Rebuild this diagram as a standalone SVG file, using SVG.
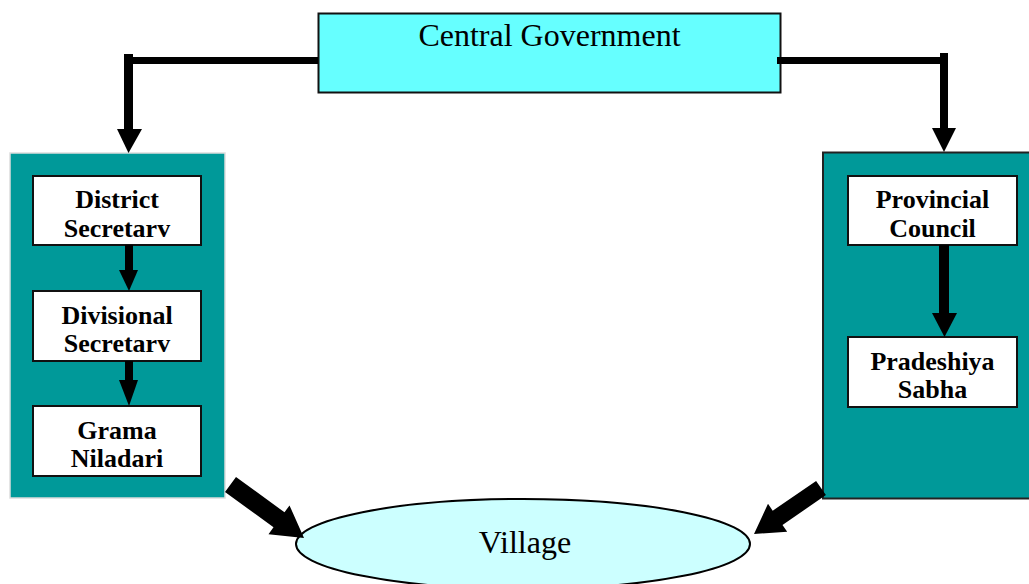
<svg xmlns="http://www.w3.org/2000/svg" width="1029" height="584" viewBox="0 0 1029 584">
<style>
.box{fill:#ffffff;stroke:#111;stroke-width:2}
.lbl{font-family:"Liberation Serif","Times New Roman",serif;font-weight:bold;font-size:26px;fill:#000;text-anchor:middle}
.big{font-family:"Liberation Serif","Times New Roman",serif;font-size:32px;fill:#000;text-anchor:middle}
.con{fill:#000;stroke:none}
</style>
<rect width="1029" height="584" fill="#ffffff"/>
<g id="central">
<rect x="318.5" y="13.5" width="462" height="79" fill="#66FFFF" stroke="#111" stroke-width="2"/>
<text class="big" x="549.5" y="46">Central Government</text>
</g>
<g id="left-panel">
<rect x="10" y="153" width="215" height="345" fill="#009999" stroke="#dddddd" stroke-width="1.5"/>
</g>
<g id="right-panel">
<rect x="823" y="152.5" width="210" height="346" fill="#009999" stroke="#222" stroke-width="2"/>
</g>
<g id="district">
<rect class="box" x="33" y="176" width="168" height="69"/>
<text class="lbl" x="117" y="208">District</text>
<text class="lbl" x="117" y="237">Secretarv</text>
</g>
<g id="divisional">
<rect class="box" x="33" y="291" width="168" height="70"/>
<text class="lbl" x="117" y="324">Divisional</text>
<text class="lbl" x="117" y="352">Secretarv</text>
</g>
<g id="grama">
<rect class="box" x="33" y="406" width="168" height="70"/>
<text class="lbl" x="117" y="439">Grama</text>
<text class="lbl" x="117" y="467">Niladari</text>
</g>
<g id="provincial">
<rect class="box" x="848" y="176" width="169" height="69"/>
<text class="lbl" x="932.5" y="208">Provincial</text>
<text class="lbl" x="932.5" y="237">Council</text>
</g>
<g id="pradeshiya">
<rect class="box" x="848" y="337" width="169" height="70"/>
<text class="lbl" x="932.5" y="370">Pradeshiya</text>
<text class="lbl" x="932.5" y="398">Sabha</text>
</g>
<g id="village">
<ellipse cx="523" cy="544" rx="227" ry="45" fill="#CCFFFF" stroke="#000" stroke-width="2"/>
<text class="big" x="525" y="553">Village</text>
</g>
<g id="connectors">
<rect class="con" x="124" y="57" width="194" height="7"/>
<rect class="con" x="124" y="54" width="9" height="76"/>
<polygon class="con" points="117,129 142,129 128.5,153"/>
<rect class="con" x="777" y="57" width="171" height="7"/>
<rect class="con" x="940" y="53" width="8" height="76"/>
<polygon class="con" points="932,128 956,128 944,152"/>
<rect class="con" x="125" y="245" width="8" height="26"/>
<polygon class="con" points="119,270 138,270 129,291"/>
<rect class="con" x="125" y="361" width="8" height="20"/>
<polygon class="con" points="119,380 138,380 129,406"/>
<rect class="con" x="939" y="245" width="10" height="69"/>
<polygon class="con" points="932,313 957,313 944.5,337"/>
<polygon class="con" points="225,492 236,477 284.5,512.3 289.5,505.4 304,538 268.5,534.2 273.5,527.3"/>
<polygon class="con" points="825.9,495.1 816.1,480.9 772.7,510.7 768,503.8 754,534 787.2,531.8 782.5,524.9"/>
</g>
</svg>
